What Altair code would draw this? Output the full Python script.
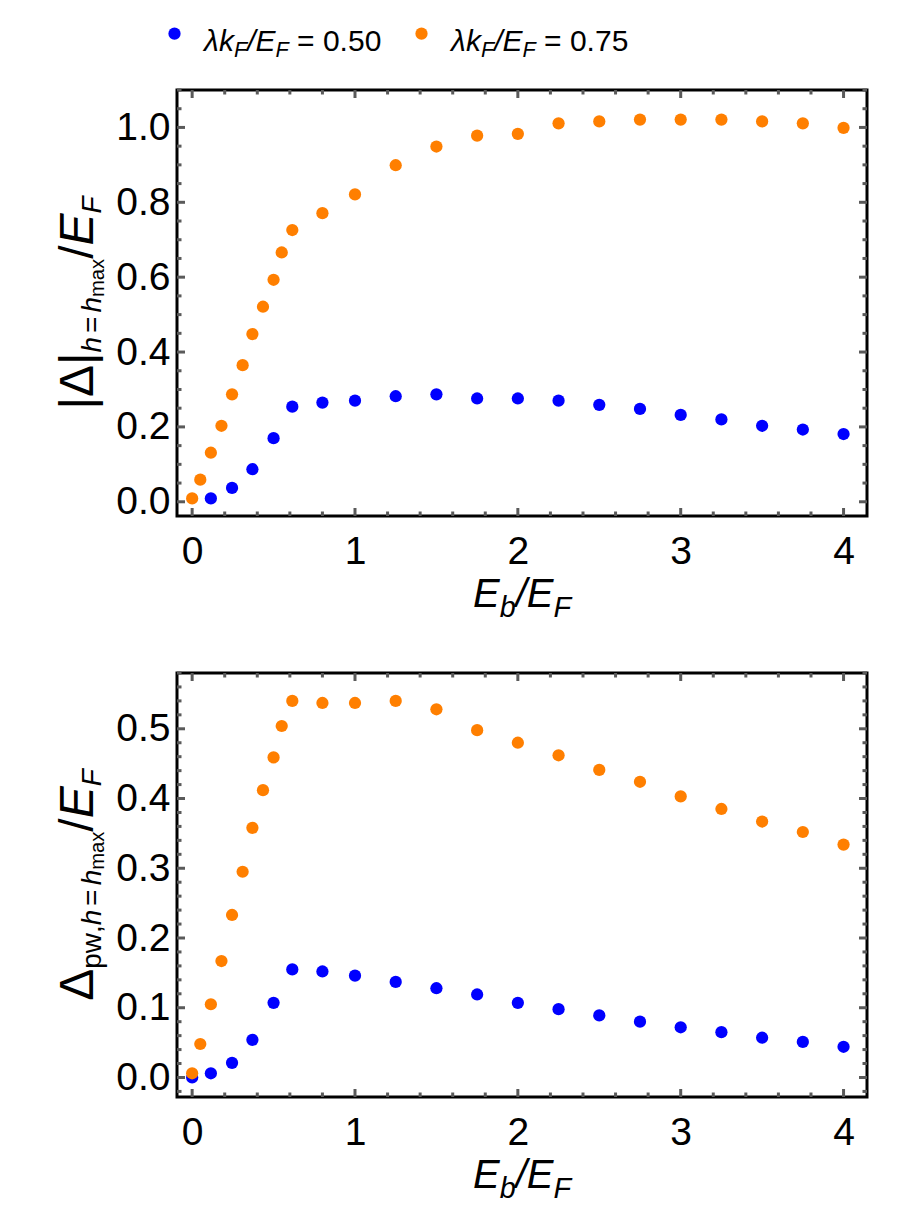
import altair as alt
import pandas as pd

FONT = "Liberation Sans"
BLUE = "#0000FF"
ORANGE = "#FF7F00"
TICK = "#5a5a5a"

# ---------------- data ----------------
eb_orange = [0, 0.05, 0.115, 0.18, 0.245, 0.31, 0.37, 0.435, 0.5, 0.55, 0.615,
             0.8, 1.0, 1.25, 1.5, 1.75, 2.0, 2.25, 2.5, 2.75, 3.0, 3.25, 3.5, 3.75, 4.0]
eb_blue = [0, 0.115, 0.245, 0.37, 0.5, 0.615,
           0.8, 1.0, 1.25, 1.5, 1.75, 2.0, 2.25, 2.5, 2.75, 3.0, 3.25, 3.5, 3.75, 4.0]

# top panel: |Delta| at h = h_max
gap_orange = [0.009, 0.059, 0.131, 0.203, 0.287, 0.365, 0.448, 0.521, 0.593, 0.666, 0.726,
              0.771, 0.821, 0.899, 0.949, 0.978, 0.983, 1.011, 1.016, 1.021, 1.021, 1.021,
              1.016, 1.011, 0.999]
gap_blue = [0.009, 0.037, 0.087, 0.170, 0.254,
            0.265, 0.270, 0.282, 0.287, 0.276, 0.276, 0.270, 0.259, 0.248, 0.232, 0.220,
            0.203, 0.193, 0.181]
eb_blue_top = eb_blue[1:]

# bottom panel: Delta_pw at h = h_max
pw_orange = [0.006, 0.048, 0.105, 0.167, 0.233, 0.295, 0.358, 0.412, 0.459, 0.504, 0.540,
             0.537, 0.537, 0.540, 0.528, 0.498, 0.480, 0.462, 0.441, 0.424, 0.403, 0.385,
             0.367, 0.352, 0.334]
pw_blue = [0.0, 0.006, 0.021, 0.054, 0.107, 0.155,
           0.152, 0.146, 0.137, 0.128, 0.119, 0.107, 0.098, 0.089, 0.080, 0.072, 0.065,
           0.057, 0.051, 0.044]

series_names = ["0.50", "0.75"]

x_major = [0, 1, 2, 3, 4]
x_minor = [round(i * 0.2, 2) for i in range(1, 20) if i % 5 != 0]
top_y_major = [0.0, 0.2, 0.4, 0.6, 0.8, 1.0]
top_y_minor = [round(i * 0.05, 2) for i in range(1, 23) if i % 4 != 0]
bot_y_major = [0.0, 0.1, 0.2, 0.3, 0.4, 0.5]
bot_y_minor = [round(i * 0.02, 2) for i in range(-1, 30) if i % 5 != 0]

X_DOM = [-0.093, 4.144]
TOP_DOM = [-0.038, 1.100]
BOT_DOM = [-0.028, 0.580]

W = 690
H_TOP = 426
H_BOT = 424

# ---------------- helpers ----------------
ADV = {' ': 278, '|': 260, ',': 278, '.': 278, '/': 278, '=': 584, 'E': 667, 'F': 611,
       'a': 556, 'b': 556, 'h': 556, 'k': 500, 'm': 833, 'p': 556, 'w': 722, 'x': 500,
       'Δ': 668, 'λ': 500}


def tw(s, size):
    return sum(ADV.get(c, 556) for c in s) / 1000.0 * size


def rich(pieces, x, y, angle=0, center=True):
    """pieces: (text, size, italic, baseline shift, extra gap before)"""
    total = sum(tw(p[0], p[1]) + (p[4] if len(p) > 4 else 0) for p in pieces)
    cur = -total / 2 if center else 0
    out = []
    for p in pieces:
        t, s, it, sh = p[:4]
        gap = p[4] if len(p) > 4 else 0
        cur += gap
        lead = len(t) - len(t.lstrip(" "))
        txt = t.strip(" ")
        kw = dict(text=txt, fontSize=s, font=FONT, fontStyle="italic" if it else "normal",
                  align="left", baseline="alphabetic", dx=cur + tw(" " * lead, s), dy=sh,
                  color="black")
        if angle:
            kw["angle"] = angle
        out.append(alt.Chart(alt.Data(values=[{"t": txt}])).mark_text(**kw).encode(
            x=alt.value(x), y=alt.value(y)))
        cur += tw(t, s)
    return out


def make_df(xo, yo, xb, yb):
    rows = [{"eb": a, "val": b, "series": "0.50"} for a, b in zip(xb, yb)]
    rows += [{"eb": a, "val": b, "series": "0.75"} for a, b in zip(xo, yo)]
    return pd.DataFrame(rows)


def panel(df, ydom, ymaj, ymin, H, ytitle, legend):
    xs = alt.Scale(domain=X_DOM, nice=False, zero=False)
    ys = alt.Scale(domain=ydom, nice=False, zero=False)
    xaxis = alt.Axis(values=x_major, format="d", ticks=False, tickSize=0, domain=False,
                     grid=False, labelFont=FONT, labelFontSize=39, labelColor="black",
                     labelPadding=16, labelFlush=False, labelOverlap=False, title=None)
    yaxis = alt.Axis(values=ymaj, format=".1f", ticks=False, tickSize=0, domain=False,
                     grid=False, labelFont=FONT, labelFontSize=39, labelColor="black",
                     labelPadding=7, labelFlush=False, labelOverlap=False, title=None)
    pts = alt.Chart(df).mark_circle(size=150, opacity=1).encode(
        x=alt.X("eb:Q", scale=xs, axis=xaxis),
        y=alt.Y("val:Q", scale=ys, axis=yaxis),
        color=alt.Color("series:N", scale=alt.Scale(domain=series_names, range=[BLUE, ORANGE]),
                        legend=legend),
    )
    layers = [pts]
    for vals, ln in [(x_major, 8), (x_minor, 4.5)]:
        b = alt.Chart(pd.DataFrame({"v": vals})).mark_rule(color=TICK, strokeWidth=3)
        layers.append(b.encode(x=alt.X("v:Q", scale=xs, axis=xaxis),
                               y=alt.value(H - ln), y2=alt.value(H)))
        layers.append(b.encode(x=alt.X("v:Q", scale=xs, axis=xaxis),
                               y=alt.value(0), y2=alt.value(ln)))
    for vals, ln in [(ymaj, 8), (ymin, 4.5)]:
        b = alt.Chart(pd.DataFrame({"v": vals})).mark_rule(color=TICK, strokeWidth=3)
        layers.append(b.encode(y=alt.Y("v:Q", scale=ys, axis=yaxis),
                               x=alt.value(0), x2=alt.value(ln)))
        layers.append(b.encode(y=alt.Y("v:Q", scale=ys, axis=yaxis),
                               x=alt.value(W - ln), x2=alt.value(W)))
    # x title  E_b / E_F
    S = 40
    s1 = 0.72 * S
    sh = 0.25 * S
    layers += rich([("E", S, True, 0), ("b", s1, True, sh), ("/", S, True, 0),
                    ("E", S, True, 0), ("F", s1, True, sh)], W / 2, H + 91)
    layers += rich(ytitle, -84, H / 2, angle=270)
    return layers


YS = 48
YS1 = 0.58 * YS
YS2 = 0.42 * YS
SH1 = 0.16 * YS
SH2 = SH1 + 0.07 * YS
G = 0.15 * YS1
top_title = [("|Δ|", YS, False, 0), ("h", YS1, True, SH1), ("=", YS1, False, SH1, G),
             ("h", YS1, True, SH1, G), ("max", YS2, False, SH2), ("/", YS, False, 0),
             ("E", YS, True, 0), ("F", YS1, True, SH1)]
bot_title = [("Δ", YS, False, 0), ("pw", YS1, False, SH1), (",", YS1, False, SH1),
             ("h", YS1, True, SH1), ("=", YS1, False, SH1, G), ("h", YS1, True, SH1, G),
             ("max", YS2, False, SH2), ("/", YS, False, 0), ("E", YS, True, 0),
             ("F", YS1, True, SH1)]

legend = alt.Legend(orient="none", legendX=-9, legendY=-63, direction="horizontal",
                    title=None, labelExpr="''", symbolType="circle", symbolSize=150,
                    symbolStrokeWidth=0, symbolOpacity=1, columnPadding=234, padding=0,
                    labelOffset=0)

top_layers = panel(make_df(eb_orange, gap_orange, eb_blue_top, gap_blue), TOP_DOM,
                   top_y_major, top_y_minor, H_TOP, top_title, legend)
LS = 30
LS1 = 0.72 * LS
LSH = 0.2 * LS
for x0, val in [(27, "0.50"), (274, "0.75")]:
    top_layers += rich([("λ", LS, True, 0), ("k", LS, True, 0), ("F", LS1, True, LSH),
                        ("/", LS, True, 0), ("E", LS, True, 0), ("F", LS1, True, LSH),
                        (" = " + val, LS, False, 0)], x0, -39, center=False)

bot_layers = panel(make_df(eb_orange, pw_orange, eb_blue, pw_blue), BOT_DOM,
                   bot_y_major, bot_y_minor, H_BOT, bot_title, None)

top = alt.layer(*top_layers).properties(width=W, height=H_TOP)
bottom = alt.layer(*bot_layers).properties(width=W, height=H_BOT)

chart = alt.vconcat(top, bottom, spacing=157, bounds="flush").resolve_scale(
    x="independent", y="independent", color="independent"
).resolve_legend(color="independent").properties(
    padding={"left": 53, "top": 25, "right": 5, "bottom": 5},
    background="white",
).configure_view(stroke="black", strokeWidth=3)

chart.save("out.html", embed_options={"renderer": "svg", "actions": False})
